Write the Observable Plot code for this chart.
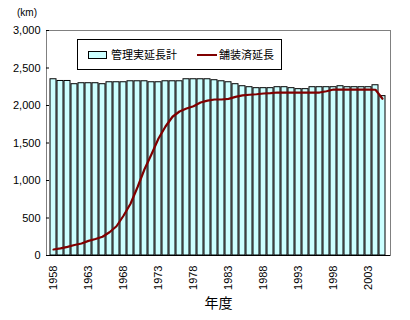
<!DOCTYPE html>
<html>
<head>
<meta charset="utf-8">
<script src="https://cdn.jsdelivr.net/npm/d3@7"></script>
<script src="https://cdn.jsdelivr.net/npm/@observablehq/plot@0.6"></script>
<style>
  body { margin: 0; background: #fff; }
  #wrap { position: relative; width: 410px; height: 320px; font-family: "Liberation Sans", Arial, sans-serif; }
  .jp { font-family: "Noto Sans CJK JP", sans-serif; }
</style>
</head>
<body>
<div id="wrap">
  <div id="chart"></div>
  <div style="position:absolute;left:17px;top:7px;font-size:10px;">(km)</div>
  <div id="legend" class="jp" style="position:absolute;left:77px;top:39px;width:203px;height:29px;border:1px solid #000;background:#fff;font-size:11px;">
    <div style="position:absolute;left:10px;top:11px;width:17px;height:6px;background:#ccffff;border:1px solid #000;"></div>
    <div style="position:absolute;left:33px;top:6px;line-height:16px;">管理実延長計</div>
    <div style="position:absolute;left:119px;top:14px;width:20px;height:2px;background:#800000;"></div>
    <div style="position:absolute;left:141px;top:6px;line-height:16px;">舗装済延長</div>
  </div>
</div>
<script>
const years = d3.range(1958, 2006);
const managedLength = [
  2350, 2327, 2327, 2284, 2297, 2297, 2297, 2284, 2310, 2310,
  2310, 2323, 2323, 2323, 2310, 2310, 2323, 2323, 2323, 2350,
  2350, 2350, 2350, 2337, 2323, 2310, 2284, 2257, 2244, 2231,
  2231, 2231, 2244, 2244, 2231, 2218, 2218, 2244, 2244, 2244,
  2244, 2257, 2244, 2244, 2244, 2244, 2270, 2125
];
const pavedLength = [
  80, 95, 115, 140, 160, 195, 220, 250, 310, 390,
  530, 690, 910, 1150, 1350, 1560, 1720, 1850, 1920, 1960,
  1990, 2040, 2065, 2080, 2080, 2088, 2115, 2135, 2143, 2150,
  2160, 2165, 2173, 2173, 2173, 2173, 2173, 2173, 2173, 2190,
  2213, 2213, 2213, 2213, 2213, 2213, 2210, 2090
];
const yTicks = [0, 500, 1000, 1500, 2000, 2500, 3000];
const xTickYears = [1958, 1963, 1968, 1973, 1978, 1983, 1988, 1993, 1998, 2003];

const data = years.map((y, i) => ({year: y, managed: managedLength[i], paved: pavedLength[i]}));

const plot = Plot.plot({
  width: 410,
  height: 320,
  marginLeft: 46,
  marginRight: 20,
  marginTop: 30,
  marginBottom: 65,
  style: {fontFamily: "Liberation Sans, Arial, sans-serif", fontSize: "11px", color: "#000", background: "transparent"},
  x: {type: "band", domain: years, padding: 0.12, align: 0.5},
  y: {domain: [0, 3000]},
  marks: [
    Plot.frame({stroke: "#808080"}),
    Plot.barY(data, {x: "year", y: "managed", fill: "#ccffff", stroke: "#000", strokeWidth: 1}),
    Plot.line(data, {x: "year", y: "paved", stroke: "#800000", strokeWidth: 2.2}),
    Plot.axisY({ticks: yTicks, tickFormat: d3.format(","), tickSize: -3, tickPadding: 9, label: null, line: true, stroke: "#000", fontSize: 11}),
    Plot.axisX({ticks: xTickYears, tickFormat: d => String(d), tickSize: 0, tickPadding: 10, tickRotate: -90, label: "年度", labelAnchor: "center", labelOffset: 52, fontSize: 11}),
    Plot.ruleY([0], {stroke: "#000"})
  ]
});
d3.select(plot).selectAll("[aria-label='x-axis label'] text").style("font-family", "Noto Sans CJK JP, sans-serif").style("font-size", "14px");
document.getElementById("chart").appendChild(plot);
</script>
</body>
</html>
